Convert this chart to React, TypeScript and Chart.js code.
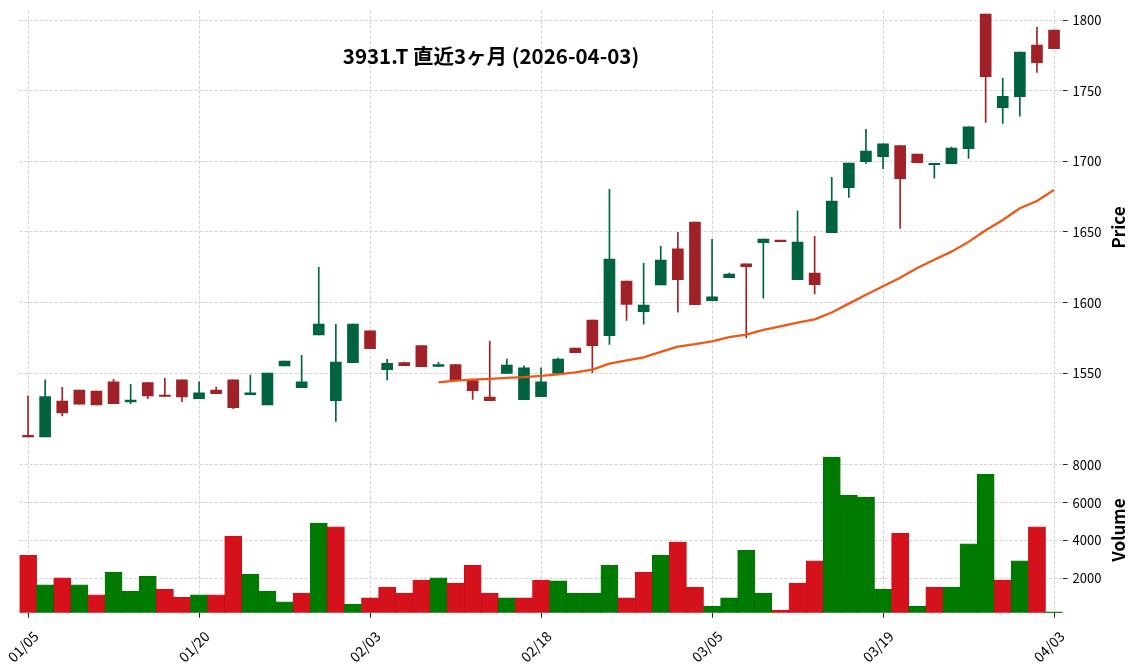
import { useEffect, useRef } from 'react';
import { Chart, registerables } from 'chart.js';

Chart.register(...registerables);

const titleText = '3931.T 直近3ヶ月 (2026-04-03)';

const dates = [
  '01/05', '01/06', '01/07', '01/08', '01/09', '01/13', '01/14', '01/15', '01/16', '01/19',
  '01/20', '01/21', '01/22', '01/23', '01/26', '01/27', '01/28', '01/29', '01/30',
  '02/02', '02/03', '02/04', '02/05', '02/06', '02/09', '02/10', '02/12', '02/13', '02/16',
  '02/17', '02/18', '02/19', '02/20', '02/24', '02/25', '02/26', '02/27',
  '03/02', '03/03', '03/04', '03/05', '03/06', '03/09', '03/10', '03/11', '03/12', '03/13',
  '03/16', '03/17', '03/18', '03/19', '03/23', '03/24', '03/25', '03/26', '03/27', '03/30',
  '03/31', '04/01', '04/02', '04/03',
];

const tickLabels = ['01/05', '01/20', '02/03', '02/18', '03/05', '03/19', '04/03'];

const opens = [
  1506, 1505, 1530.4, 1538.2, 1537.5, 1544, 1529.8, 1543.4, 1534.5, 1545.3,
  1532, 1538.2, 1545.3, 1534.9, 1527.6, 1555.2, 1539.8, 1577.1, 1530.6, 1557.5,
  1580, 1552.6, 1557.5, 1569.6, 1554.9, 1556.1, 1544.8, 1533.2, 1550, 1531.3,
  1533.5, 1550, 1567.9, 1587.7, 1576.6, 1615.3, 1593.6, 1612.5, 1638, 1657.1,
  1601.4, 1617.7, 1627.4, 1642.4, 1643.9, 1616.2, 1621, 1649.5, 1681.3, 1699.7,
  1703.3, 1711.1, 1705.2, 1697.6, 1698.3, 1708.9, 1804.2, 1737.9, 1745.7, 1782.3,
  1792.9,
];

const highs = [
  1534, 1545.3, 1540, 1538.2, 1537.5, 1545.8, 1542.2, 1543.4, 1546.5, 1545.3,
  1543.9, 1540.3, 1545.3, 1548.8, 1550.2, 1558.7, 1562.7, 1625, 1584.7, 1584.9,
  1580, 1559.9, 1558, 1569.6, 1557.8, 1556.1, 1544.8, 1572.7, 1560, 1555.2,
  1553.8, 1560.8, 1567.9, 1587.7, 1680.2, 1615.3, 1627.8, 1639.9, 1649.8, 1657.1,
  1644.8, 1621, 1627.4, 1645, 1643.9, 1664.9, 1647, 1688.7, 1698.8, 1722.7,
  1712.3, 1711.1, 1705.2, 1698.6, 1710.1, 1724.5, 1804.2, 1758.7, 1777.4, 1794.8,
  1792.9,
];

const lows = [
  1505, 1505, 1519.8, 1528.2, 1527.6, 1528.5, 1528.5, 1532, 1533.6, 1530,
  1532, 1535.6, 1525, 1534.9, 1527.6, 1555.2, 1539.8, 1577.1, 1516, 1557.5,
  1567.4, 1545.3, 1555.4, 1554.7, 1554.9, 1545.3, 1531.6, 1530.6, 1550, 1531.3,
  1533.5, 1550, 1564.6, 1550.4, 1570.5, 1587.5, 1584.7, 1612.5, 1593.2, 1598.6,
  1601.4, 1617.7, 1575, 1603.1, 1643.2, 1616.2, 1606.1, 1649.5, 1674.5, 1698.6,
  1694.8, 1652.6, 1699, 1688, 1698.3, 1702.1, 1727.6, 1726.9, 1731.9, 1763,
  1779.7,
];

const closes = [
  1505, 1533.5, 1522, 1528.2, 1527.6, 1528.5, 1531.1, 1534.0, 1533.6, 1533.3,
  1536.1, 1535.6, 1525.7, 1536.1, 1550.2, 1558.7, 1543.9, 1584.9, 1558, 1584.9,
  1567.4, 1557.1, 1555.4, 1554.7, 1556.1, 1545.3, 1537.7, 1530.6, 1555.9, 1553.8,
  1543.9, 1560.1, 1564.6, 1569.6, 1630.9, 1598.8, 1598.2, 1630.2, 1616.2, 1598.6,
  1604.2, 1620.3, 1625.5, 1645, 1643.2, 1642.8, 1612.7, 1671.9, 1698.8, 1707.3,
  1712.3, 1687.7, 1699, 1698.6, 1709.4, 1724.5, 1759.9, 1746, 1777.4, 1769.8,
  1779.7,
];

const volumes = [
  3230, 1650, 2020, 1650, 1120, 2330, 1330, 2120, 1430, 1010,
  1120, 1120, 4240, 2230, 1330, 750, 1220, 4930, 4720, 640,
  960, 1540, 1220, 1910, 2020, 1750, 2700, 1220, 960, 960,
  1910, 1860, 1220, 1220, 2700, 960, 2330, 3230, 3920, 1540,
  530, 960, 3500, 1220, 320, 1750, 2920, 8420, 6410, 6300,
  1430, 4400, 530, 1540, 1540, 3820, 7520, 1910, 2920, 4720,
  230,
];

// 25-day moving average (first 24 days have none)
const ma25 = [
  null, null, null, null, null, null, null, null, null, null,
  null, null, null, null, null, null, null, null, null, null,
  null, null, null, null, 1543.5, 1544.8, 1545.5, 1546.0, 1546.7, 1547.3,
  1548.2, 1549.3, 1550.6, 1552.6, 1556.9, 1559.2, 1561.3, 1565.2, 1568.9, 1570.6,
  1572.6, 1575.6, 1577.4, 1580.7, 1583.2, 1585.8, 1588.2, 1593.0, 1599.3, 1605.6,
  1611.6, 1617.6, 1624.5, 1630.4, 1636.1, 1643.0, 1651.2, 1658.5, 1666.8, 1671.9,
  1679.8,
];

const priceTicks = [1550, 1600, 1650, 1700, 1750, 1800];
const volumeTicks = [2000, 4000, 6000, 8000];

const UP = '#006340';
const DOWN = '#a02128';
const VOL_UP = '#007a00';
const VOL_DOWN = '#d5121b';
const MA_COLOR = '#ef5714';
const GRID = '#c4c4c4';
const FONT = '"Noto Sans CJK JP", "Noto Sans", sans-serif';

const textPlugin = {
  id: 'overlayTexts',
  afterDraw(chart: any) {
    const ctx = chart.ctx as CanvasRenderingContext2D;
    ctx.save();
    ctx.fillStyle = '#000';
    ctx.textAlign = 'center';
    ctx.textBaseline = 'alphabetic';
    ctx.font = `bold 20.5px ${FONT}`;
    ctx.fillText(titleText, 491, 63.5);

    ctx.font = `bold 17px ${FONT}`;
    ctx.save();
    ctx.translate(1125, 227.5);
    ctx.rotate(-Math.PI / 2);
    ctx.fillText('Price', 0, 0);
    ctx.restore();

    ctx.save();
    ctx.translate(1125, 530);
    ctx.rotate(-Math.PI / 2);
    ctx.fillText('Volume', 0, 0);
    ctx.restore();
    ctx.restore();
  },
};

export default function App() {
  const ref = useRef<HTMLCanvasElement>(null);

  useEffect(() => {
    const candleUp = closes.map((c, i) => c >= opens[i]);
    const volUp = closes.map((c, i) => (i === 0 ? c >= opens[0] : c >= closes[i - 1]));
    const tickSet = new Set(tickLabels);
    const isLabeled = (i: number) => tickSet.has(dates[i]);

    const chart = new Chart(ref.current as HTMLCanvasElement, {
      type: 'bar',
      data: {
        labels: dates,
        datasets: [
          {
            type: 'line',
            label: 'MA25',
            data: ma25 as any,
            yAxisID: 'y',
            borderColor: MA_COLOR,
            borderWidth: 2.3,
            pointRadius: 0,
            tension: 0,
            fill: false,
          } as any,
          {
            type: 'bar',
            label: 'body',
            data: opens.map((o, i) => [o, closes[i]]) as any,
            yAxisID: 'y',
            backgroundColor: candleUp.map((u) => (u ? UP : DOWN)),
            barThickness: 11,
            minBarLength: 1.5,
            grouped: false,
          } as any,
          {
            type: 'bar',
            label: 'wick',
            data: lows.map((l, i) => [l, highs[i]]) as any,
            yAxisID: 'y',
            backgroundColor: candleUp.map((u) => (u ? UP : DOWN)),
            barThickness: 1,
            grouped: false,
          } as any,
          {
            type: 'bar',
            label: 'Volume',
            data: volumes,
            yAxisID: 'yv',
            backgroundColor: volUp.map((u) => (u ? VOL_UP : VOL_DOWN)),
            borderColor: volUp.map((u) => (u ? '#006a00' : '#b80f18')),
            borderWidth: 0.6,
            barPercentage: 1,
            categoryPercentage: 1,
            grouped: false,
          } as any,
        ],
      },
      options: {
        animation: false,
        responsive: false,
        layout: { padding: { left: 19.5, top: 10.7, right: 0, bottom: 0 } },
        plugins: {
          legend: { display: false },
          tooltip: { enabled: false },
          title: { display: false },
        },
        scales: {
          x: {
            type: 'category',
            offset: true,
            grid: {
              offset: false,
              color: (c: any) => (isLabeled(c.index) ? GRID : 'rgba(0,0,0,0)'),
              tickColor: (c: any) => (isLabeled(c.index) ? '#222' : 'rgba(0,0,0,0)'),
              lineWidth: 0.8,
              tickWidth: 1,
              tickLength: 5,
            },
            border: { display: false, dash: [3, 2] },
            ticks: {
              autoSkip: false,
              maxRotation: 45,
              minRotation: 45,
              color: '#000',
              font: { family: FONT, size: 14 },
              padding: 10,
              labelOffset: 8,
              callback: (_v: any, i: number) => (isLabeled(i) ? dates[i] : ''),
            },
            afterFit: (s: any) => {
              s.height = 57.3;
              s.paddingLeft = 0;
              s.paddingRight = 0;
            },
          },
          y: {
            type: 'linear',
            position: 'right',
            stack: 'panels',
            stackWeight: 5,
            min: 1502.3,
            max: 1806.6,
            afterBuildTicks: (s: any) => {
              s.ticks = priceTicks.map((v) => ({ value: v }));
            },
            grid: {
              color: GRID,
              lineWidth: 0.8,
              tickColor: '#222',
              tickLength: 5,
              tickWidth: 1,
            },
            border: { display: false, dash: [3, 2] },
            ticks: {
              color: '#000',
              padding: 5,
              font: { family: FONT, size: 13 },
              callback: (v: any) => String(v),
            },
            afterFit: (s: any) => {
              s.width = 74.4;
              s.paddingTop = 0;
              s.paddingBottom = 0;
            },
          },
          yv: {
            type: 'linear',
            position: 'right',
            stack: 'panels',
            stackWeight: 2,
            min: 179,
            max: 9285,
            afterBuildTicks: (s: any) => {
              s.ticks = volumeTicks.map((v) => ({ value: v }));
            },
            grid: {
              color: GRID,
              lineWidth: 0.8,
              tickColor: '#222',
              tickLength: 5,
              tickWidth: 1,
            },
            border: { display: false, dash: [3, 2] },
            ticks: {
              color: '#000',
              padding: 5,
              font: { family: FONT, size: 13 },
              callback: (v: any) => String(v),
            },
            afterFit: (s: any) => {
              s.width = 74.4;
              s.paddingTop = 0;
              s.paddingBottom = 0;
            },
          },
        },
      } as any,
      plugins: [textPlugin],
    });

    return () => chart.destroy();
  }, []);

  return (
    <div
      style={{
        position: 'absolute',
        left: 0,
        top: 0,
        width: 1137,
        height: 670,
        background: '#fff',
      }}
    >
      <canvas ref={ref} width={1137} height={670} style={{ display: 'block' }} />
    </div>
  );
}
